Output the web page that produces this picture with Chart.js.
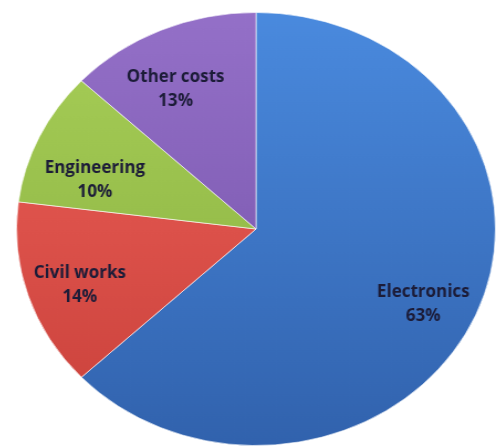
<!DOCTYPE html>
<html>
<head>
<meta charset="utf-8">
<script src="https://cdn.jsdelivr.net/npm/chart.js@4/dist/chart.umd.min.js"></script>
<style>
  html, body { margin: 0; padding: 0; background: #ffffff; overflow: hidden; }
  #wrap { position: absolute; left: 39px; top: 12px; width: 434px; height: 434px;
          transform: scaleX(1.106); transform-origin: 50% 50%; }
</style>
</head>
<body>
<div id="wrap"><canvas id="c"></canvas></div>
<script>
const categories = ["Electronics", "Civil works", "Engineering", "Other costs"];
const values = [63, 14, 10, 13];
const valueLabels = ["63%", "14%", "10%", "13%"];
const topColors = ["#4a8ade", "#f0625a", "#a8cf58", "#9470c8"];
const bottomColors = ["#3162ad", "#c8403a", "#86ad3e", "#7250a6"];
// label placement style: radius fraction and angular nudge (degrees) per slice
const labelRadius = [0.78, 0.78, 0.71, 0.73];
const labelAngleNudge = [3, -1.4, -6.6, -4];
const SX = 1.106;

function grad(ctx) {
  const chart = ctx.chart;
  const area = chart.chartArea;
  if (!area) return topColors[ctx.dataIndex];
  const g = chart.ctx.createLinearGradient(0, area.top, 0, area.bottom);
  g.addColorStop(0, topColors[ctx.dataIndex]);
  g.addColorStop(1, bottomColors[ctx.dataIndex]);
  return g;
}

const labelPlugin = {
  id: 'sliceLabels',
  afterDatasetsDraw(chart) {
    const ctx = chart.ctx;
    const meta = chart.getDatasetMeta(0);
    meta.data.forEach((arc, i) => {
      const p = arc.getProps(['x', 'y', 'startAngle', 'endAngle', 'outerRadius'], true);
      const mid = (p.startAngle + p.endAngle) / 2 + labelAngleNudge[i] * Math.PI / 180;
      const rr = p.outerRadius * labelRadius[i];
      const x = p.x + Math.cos(mid) * rr;
      const y = p.y + Math.sin(mid) * rr;
      ctx.save();
      ctx.translate(x, y);
      ctx.scale(1 / SX, 1);
      ctx.fillStyle = "#1c1c38";
      ctx.font = "bold 17px 'Open Sans', sans-serif";
      ctx.textAlign = "center";
      ctx.textBaseline = "middle";
      ctx.fillText(categories[i], 0, -12);
      ctx.fillText(valueLabels[i], 0, 12);
      ctx.restore();
    });
  }
};

new Chart(document.getElementById('c'), {
  type: 'pie',
  data: {
    labels: categories,
    datasets: [{
      data: values,
      backgroundColor: grad,
      borderColor: "rgba(255,255,255,0.6)",
      borderWidth: 1
    }]
  },
  options: {
    responsive: true,
    maintainAspectRatio: false,
    animation: false,
    layout: { padding: 0 },
    plugins: {
      legend: { display: false },
      tooltip: { enabled: false }
    }
  },
  plugins: [labelPlugin]
});
</script>
</body>
</html>
